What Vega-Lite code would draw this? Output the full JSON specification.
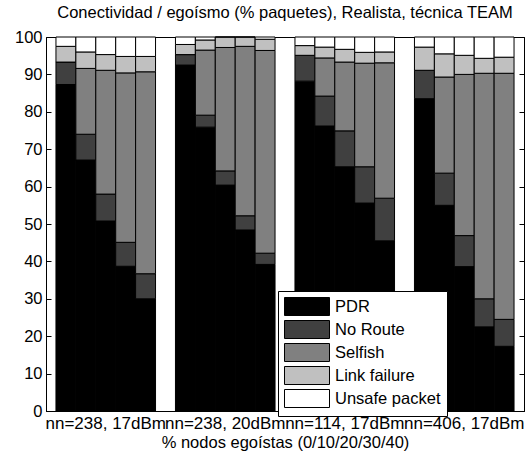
{
  "$schema": "https://vega.github.io/schema/vega-lite/v6.json",
  "width": 478,
  "height": 374,
  "autosize": {"type": "none"},
  "padding": {"left": 46, "top": 37, "right": 4, "bottom": 46},
  "background": "white",
  "title": {"text": "Conectividad / egoísmo (% paquetes), Realista, técnica TEAM", "fontSize": 16.5, "font": "Liberation Sans", "fontWeight": "normal", "color": "black", "offset": 8},
  "datasets": {
    "cats": [
      {"cat": "PDR", "rank": 1},
      {"cat": "No Route", "rank": 2},
      {"cat": "Selfish", "rank": 3},
      {"cat": "Link failure", "rank": 4},
      {"cat": "Unsafe packet", "rank": 5}
    ]
  },
  "data": {"values": [
    {"g": "nn=238, 17dBm", "s": "0", "PDR": 87.3, "No Route": 6.0, "Selfish": 0, "Link failure": 4.2, "Unsafe packet": 2.5},
    {"g": "nn=238, 17dBm", "s": "10", "PDR": 67.1, "No Route": 6.9, "Selfish": 17.6, "Link failure": 4.4, "Unsafe packet": 4.0},
    {"g": "nn=238, 17dBm", "s": "20", "PDR": 50.8, "No Route": 7.2, "Selfish": 33.1, "Link failure": 4.2, "Unsafe packet": 4.7},
    {"g": "nn=238, 17dBm", "s": "30", "PDR": 38.7, "No Route": 6.4, "Selfish": 45.3, "Link failure": 4.4, "Unsafe packet": 5.2},
    {"g": "nn=238, 17dBm", "s": "40", "PDR": 30.0, "No Route": 6.7, "Selfish": 54.0, "Link failure": 4.1, "Unsafe packet": 5.2},
    {"g": "nn=238, 20dBm", "s": "0", "PDR": 92.5, "No Route": 2.8, "Selfish": 0, "Link failure": 2.7, "Unsafe packet": 2.0},
    {"g": "nn=238, 20dBm", "s": "10", "PDR": 75.9, "No Route": 3.2, "Selfish": 17.4, "Link failure": 2.7, "Unsafe packet": 0.8},
    {"g": "nn=238, 20dBm", "s": "20", "PDR": 60.4, "No Route": 3.8, "Selfish": 33.0, "Link failure": 2.8, "Unsafe packet": 0},
    {"g": "nn=238, 20dBm", "s": "30", "PDR": 48.4, "No Route": 3.8, "Selfish": 45.3, "Link failure": 2.5, "Unsafe packet": 0},
    {"g": "nn=238, 20dBm", "s": "40", "PDR": 39.2, "No Route": 3.0, "Selfish": 54.2, "Link failure": 3.0, "Unsafe packet": 0.6},
    {"g": "nn=114, 17dBm", "s": "0", "PDR": 88.2, "No Route": 6.9, "Selfish": 0, "Link failure": 2.6, "Unsafe packet": 2.3},
    {"g": "nn=114, 17dBm", "s": "10", "PDR": 76.2, "No Route": 8.0, "Selfish": 10.2, "Link failure": 2.9, "Unsafe packet": 2.7},
    {"g": "nn=114, 17dBm", "s": "20", "PDR": 65.3, "No Route": 9.6, "Selfish": 18.4, "Link failure": 3.4, "Unsafe packet": 3.3},
    {"g": "nn=114, 17dBm", "s": "30", "PDR": 55.6, "No Route": 9.7, "Selfish": 27.7, "Link failure": 2.9, "Unsafe packet": 4.1},
    {"g": "nn=114, 17dBm", "s": "40", "PDR": 45.5, "No Route": 11.4, "Selfish": 36.2, "Link failure": 2.9, "Unsafe packet": 4.0},
    {"g": "nn=406, 17dBm", "s": "0", "PDR": 83.5, "No Route": 7.6, "Selfish": 0, "Link failure": 6.2, "Unsafe packet": 2.7},
    {"g": "nn=406, 17dBm", "s": "10", "PDR": 55.0, "No Route": 8.6, "Selfish": 25.7, "Link failure": 6.2, "Unsafe packet": 4.5},
    {"g": "nn=406, 17dBm", "s": "20", "PDR": 38.6, "No Route": 8.3, "Selfish": 43.1, "Link failure": 5.1, "Unsafe packet": 4.9},
    {"g": "nn=406, 17dBm", "s": "30", "PDR": 22.5, "No Route": 7.5, "Selfish": 60.3, "Link failure": 4.0, "Unsafe packet": 5.7},
    {"g": "nn=406, 17dBm", "s": "40", "PDR": 17.3, "No Route": 7.2, "Selfish": 65.8, "Link failure": 4.3, "Unsafe packet": 5.4}
  ]},
  "transform": [
    {"fold": ["PDR", "No Route", "Selfish", "Link failure", "Unsafe packet"], "as": ["cat", "val"]},
    {"lookup": "cat", "from": {"data": {"name": "cats"}, "key": "cat", "fields": ["rank"]}}
  ],
  "layer": [
    {
      "mark": {"type": "bar", "stroke": "black", "strokeWidth": 1},
      "encoding": {
        "x": {"field": "g", "type": "nominal", "sort": null,
              "scale": {"paddingInner": 0.1667, "paddingOuter": 0.0833},
              "axis": {"title": "% nodos egoístas (0/10/20/30/40)", "labelAngle": 0, "labelFontSize": 17, "titleFontSize": 16.5, "ticks": false, "labelPadding": 4, "titlePadding": 3, "labelOverlap": false, "labelBound": false, "labelFlush": false}},
        "xOffset": {"field": "s", "type": "nominal", "sort": null, "scale": {"paddingInner": 0, "paddingOuter": 0}},
        "y": {"field": "val", "type": "quantitative", "stack": "zero",
              "scale": {"domain": [0, 100], "nice": false},
              "axis": {"title": null, "values": [0, 10, 20, 30, 40, 50, 60, 70, 80, 90, 100], "tickSize": -5, "labelPadding": 9, "labelFontSize": 16.5}},
        "order": {"field": "rank", "type": "quantitative", "sort": "ascending"},
        "color": {"field": "cat", "type": "nominal", "sort": ["PDR", "No Route", "Selfish", "Link failure", "Unsafe packet"],
                  "scale": {"domain": ["PDR", "No Route", "Selfish", "Link failure", "Unsafe packet"], "range": ["#000000", "#404040", "#808080", "#c0c0c0", "#ffffff"]},
                  "legend": {"title": null, "orient": "none", "legendX": 232, "legendY": 254, "padding": 6, "fillColor": "white", "strokeColor": "black",
                             "symbolType": "M-1,-1H4V1H-1Z", "symbolSize": 324, "symbolStrokeColor": "black", "symbolStrokeWidth": 1, "symbolOpacity": 1,
                             "labelFontSize": 16.5, "labelOffset": 32, "rowPadding": 0, "labelColor": "black"}}
      }
    },
    {
      "mark": {"type": "rule", "opacity": 0},
      "encoding": {
        "y": {"datum": 50, "type": "quantitative",
              "axis": {"orient": "right", "title": null, "labels": false, "values": [0, 10, 20, 30, 40, 50, 60, 70, 80, 90, 100], "tickSize": -5}}
      }
    }
  ],
  "resolve": {"axis": {"y": "independent"}},
  "config": {
    "font": "Liberation Sans",
    "view": {"stroke": "black", "strokeWidth": 1},
    "axis": {"labelColor": "black", "domainColor": "black", "tickColor": "black", "titleColor": "black", "labelFont": "Liberation Sans", "titleFont": "Liberation Sans", "titleFontWeight": "normal", "grid": false},
    "legend": {"labelFont": "Liberation Sans"}
  }
}
